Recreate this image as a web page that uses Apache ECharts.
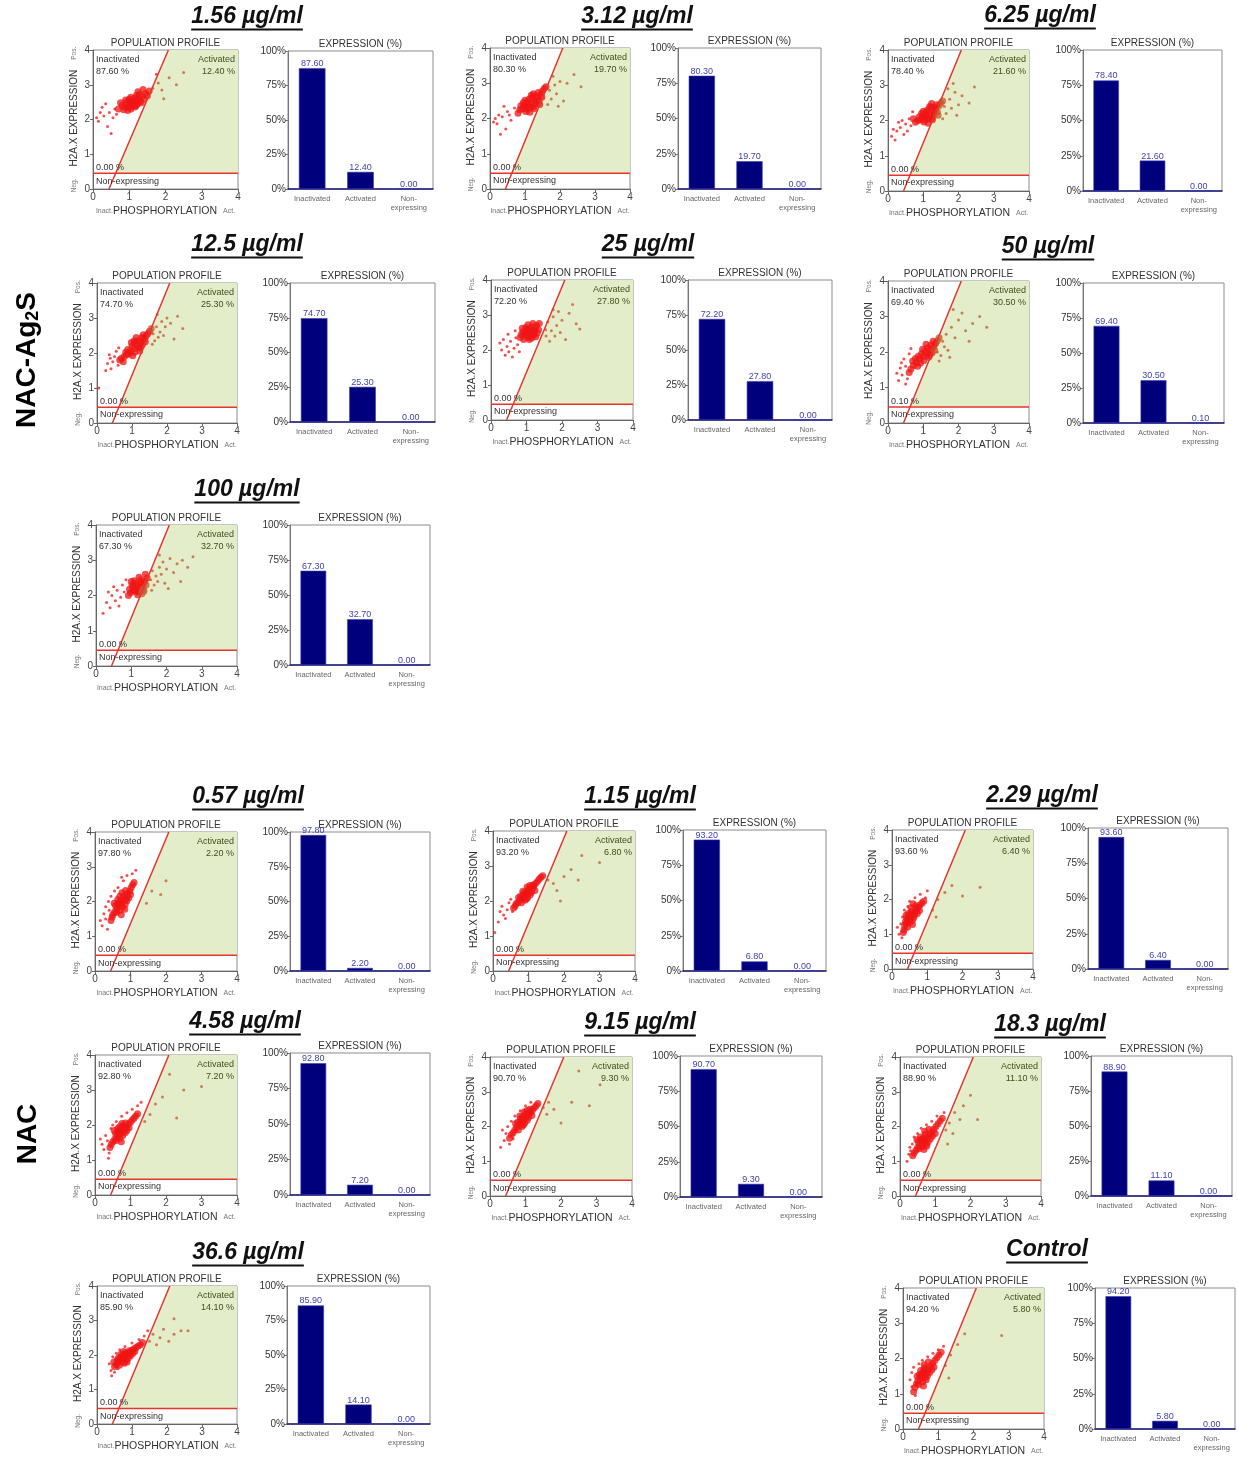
<!DOCTYPE html>
<html><head><meta charset="utf-8">
<script src="https://cdn.jsdelivr.net/npm/echarts/dist/echarts.min.js"></script>
<style>html,body{margin:0;padding:0;background:#fff}#c{width:1238px;height:1458px}</style>
</head><body><div id="c"></div>
<script>
// ---------------- DATA ----------------
const panelTitles = ['1.56 µg/ml','3.12 µg/ml','6.25 µg/ml','12.5 µg/ml','25 µg/ml','50 µg/ml','100 µg/ml',
  '0.57 µg/ml','1.15 µg/ml','2.29 µg/ml','4.58 µg/ml','9.15 µg/ml','18.3 µg/ml','36.6 µg/ml','Control'];
const inactivated = [87.60,80.30,78.40,74.70,72.20,69.40,67.30,97.80,93.20,93.60,92.80,90.70,88.90,85.90,94.20];
const activated = [12.40,19.70,21.60,25.30,27.80,30.50,32.70,2.20,6.80,6.40,7.20,9.30,11.10,14.10,5.80];
const nonExpressing = [0,0,0,0,0,0.10,0,0,0,0,0,0,0,0,0];
const barCategories = ['Inactivated','Activated','Non-\nexpressing'];
const scatterTicks = [0,1,2,3,4];
const pctTicks = [0,25,50,75,100];
const groupLabels = ['NAC-Ag2S','NAC'];
// gate: diagonal line x = GATE_X0 + GATE_SLOPE*y, horizontal line y = GATE_H
const GATE_X0 = 0.44, GATE_SLOPE = 0.41, GATE_H = 0.45;

// each cloud: dense core points first, then sparse points
const cloud1 = [[1.10,2.50],[1.02,2.46],[1.18,2.55],[0.95,2.42],[1.25,2.60],[1.08,2.38],[1.15,2.62],[0.88,2.35],[1.30,2.52],[1.00,2.58],[1.22,2.44],[0.92,2.50],[1.35,2.66],[1.05,2.30],[1.20,2.70],[0.80,2.40],[1.40,2.58],[0.98,2.34],[1.12,2.45],[1.28,2.72],[0.85,2.28],[1.45,2.75],[1.16,2.36],[0.76,2.48],[1.50,2.68],[1.04,2.64],[0.90,2.56],[1.33,2.48],[1.24,2.80],[0.70,2.30],[1.55,2.82],[1.07,2.52],[0.96,2.26],[1.38,2.86],[1.19,2.40],
 [0.30,2.10],[0.15,1.95],[0.45,2.20],[0.55,2.05],[0.25,2.35],[0.60,2.30],[0.40,1.80],[0.20,2.20],[0.65,2.15],[0.50,1.60],[0.35,2.45],[0.10,2.05],
 [1.65,2.90],[1.80,3.05],[1.90,2.85],[2.10,3.20],[2.30,3.00],[1.95,2.60],[2.50,3.35],[1.75,3.30]];
const cloud2 = [[1.20,2.45],[1.10,2.40],[1.28,2.52],[1.05,2.35],[1.35,2.58],[1.15,2.30],[1.22,2.62],[0.98,2.38],[1.40,2.50],[1.08,2.48],[1.30,2.42],[0.92,2.28],[1.45,2.68],[1.12,2.55],[1.25,2.34],[0.85,2.25],[1.50,2.78],[1.02,2.20],[1.18,2.66],[1.38,2.74],[0.95,2.45],[1.55,2.85],[1.26,2.28],[0.88,2.36],[1.42,2.40],[1.14,2.18],[1.32,2.64],[1.00,2.52],[1.48,2.60],[0.80,2.15],[1.60,2.90],[1.24,2.70],[1.06,2.26],
 [0.10,1.90],[0.20,1.85],[0.35,2.05],[0.50,2.20],[0.25,2.10],[0.60,1.95],[0.45,1.70],[0.70,2.30],[0.15,2.00],[0.40,2.35],[0.55,2.10],[0.30,1.55],
 [1.70,2.80],[1.85,2.95],[1.75,2.55],[2.00,3.05],[1.90,2.70],[2.20,3.00],[1.65,2.40],[2.40,3.25],[2.10,2.50],[1.80,3.20],[2.60,2.90],[1.95,2.35]];
const cloud3 = [[1.20,2.20],[1.10,2.15],[1.28,2.28],[1.05,2.10],[1.35,2.32],[1.15,2.05],[1.22,2.38],[0.98,2.12],[1.40,2.25],[1.08,2.24],[1.30,2.16],[0.92,2.02],[1.45,2.42],[1.12,2.30],[1.25,2.08],[0.85,2.00],[1.50,2.50],[1.02,1.96],[1.18,2.40],[1.38,2.45],[0.95,2.20],[1.55,2.55],[1.26,2.02],[0.88,2.10],[1.42,2.15],[1.14,1.92],[1.32,2.36],[1.00,2.26],[0.78,1.95],[1.24,2.48],[0.72,2.05],[1.06,2.02],
 [0.10,1.55],[0.20,1.45],[0.35,1.80],[0.50,1.90],[0.25,1.70],[0.60,2.05],[0.45,1.60],[0.65,1.85],[0.15,1.75],[0.40,2.00],[0.55,1.70],[0.30,1.95],[0.70,2.25],
 [1.60,2.40],[1.75,2.60],[1.65,2.20],[1.90,2.80],[1.80,2.35],[2.10,2.70],[1.70,2.90],[2.30,2.50],[1.95,2.15],[1.85,3.05],[2.45,2.95],[2.00,2.45],[1.55,2.05]];
const cloud4 = [[1.15,2.20],[1.05,2.12],[1.25,2.30],[0.95,2.05],[1.35,2.40],[1.10,2.28],[1.20,2.14],[0.85,1.95],[1.40,2.48],[1.00,2.20],[1.30,2.25],[0.78,1.90],[1.45,2.55],[1.18,2.36],[1.08,2.02],[0.70,1.85],[1.50,2.62],[0.92,1.98],[1.28,2.44],[1.22,2.06],[0.88,2.10],[1.55,2.70],[1.02,1.92],[0.65,1.80],[1.38,2.32],[1.12,2.44],[0.98,2.30],[0.82,2.02],[1.32,2.52],[0.75,1.75],[1.26,2.18],[1.06,2.34],
 [0.30,1.70],[0.40,1.55],[0.50,1.90],[0.60,1.65],[0.35,1.95],[0.55,2.05],[0.45,1.75],[0.25,1.50],[0.62,2.15],[0.38,1.85],[0.05,1.00],
 [1.60,2.55],[1.70,2.75],[1.65,2.35],[1.85,2.90],[1.80,2.60],[2.00,3.00],[1.75,2.45],[1.95,2.75],[2.10,2.85],[1.90,2.50],[2.30,3.05],[1.58,2.25],[2.45,2.70],[2.20,2.40],[1.72,3.10]];
const cloud5 = [[1.10,2.50],[1.00,2.45],[1.18,2.56],[0.95,2.40],[1.25,2.62],[1.05,2.36],[1.14,2.66],[0.90,2.52],[1.30,2.48],[1.02,2.58],[1.20,2.42],[0.85,2.44],[1.08,2.30],[1.28,2.70],[0.98,2.64],[1.15,2.34],[0.92,2.30],[1.34,2.58],[1.22,2.52],[1.04,2.72],[0.82,2.36],[1.12,2.42],[1.36,2.76],[0.96,2.50],[1.26,2.38],[1.06,2.60],[0.88,2.62],[1.18,2.76],
 [0.30,2.00],[0.45,2.10],[0.55,2.25],[0.40,1.85],[0.65,2.05],[0.70,2.35],[0.50,1.95],[0.35,2.30],[0.60,1.80],[0.75,2.15],[0.80,1.95],[0.25,2.20],[0.68,2.55],[0.48,2.45],
 [1.54,2.58],[1.60,2.80],[1.55,2.40],[1.75,2.95],[1.70,2.55],[1.90,3.10],[1.65,2.25],[1.85,2.70],[2.00,2.85],[1.80,2.40],[2.20,3.05],[1.95,2.50],[2.40,2.75],[2.10,2.30],[1.75,3.15],[2.30,3.30],[2.50,2.60]];
const cloud6 = [[1.10,1.95],[1.00,1.88],[1.20,2.05],[0.90,1.80],[1.30,2.15],[1.05,2.02],[1.15,1.85],[0.80,1.70],[1.35,2.25],[0.95,1.95],[1.25,1.98],[0.72,1.62],[1.40,2.32],[1.12,2.12],[1.02,1.76],[0.65,1.52],[1.45,2.40],[0.86,1.88],[1.22,2.20],[1.18,1.90],[0.78,1.82],[0.98,2.08],[0.60,1.42],[1.32,2.05],[0.84,1.60],[1.08,2.22],[0.92,1.68],[0.70,1.75],[1.28,2.30],
 [0.30,1.20],[0.40,1.35],[0.50,1.60],[0.35,1.55],[0.55,1.25],[0.45,1.80],[0.25,1.40],[0.60,1.95],[0.50,1.10],[0.38,1.70],[0.65,2.10],
 [1.40,2.00],[1.55,2.30],[1.50,1.90],[1.65,2.50],[1.60,2.15],[1.80,2.70],[1.70,2.05],[1.90,2.40],[2.00,2.90],[1.75,1.85],[2.20,2.60],[2.10,3.10],[2.40,2.80],[2.60,3.00],[2.80,2.70],[1.85,3.20],[2.30,2.30],[1.45,1.75]];
const cloud7 = [[1.25,2.25],[1.15,2.20],[1.32,2.32],[1.10,2.12],[1.38,2.40],[1.20,2.10],[1.28,2.45],[1.05,2.24],[1.42,2.30],[1.12,2.35],[1.34,2.18],[0.98,2.08],[1.22,2.52],[1.18,2.02],[1.02,2.30],[1.30,2.05],[0.95,2.18],[1.45,2.50],[1.08,2.42],[1.26,2.36],[0.92,2.00],[1.40,2.60],[1.16,2.28],[1.00,2.40],[1.36,2.12],[1.06,2.14],
 [0.30,1.80],[0.45,2.00],[0.55,1.85],[0.60,2.15],[0.40,1.65],[0.70,1.95],[0.75,2.30],[0.50,2.25],[0.65,1.70],[0.80,2.10],[0.85,2.45],[0.20,1.50],[0.35,2.10],
 [1.55,2.45],[1.60,2.70],[1.70,2.55],[1.65,2.30],[1.80,2.80],[1.75,2.40],[1.90,2.95],[1.85,2.60],[2.00,2.75],[1.95,2.35],[2.10,3.05],[2.20,2.65],[2.30,2.90],[2.05,2.20],[2.45,3.00],[2.60,2.80],[2.75,3.10],[1.80,3.15],[2.40,2.40],[1.58,2.15]];
const cloud8 = [[0.75,1.95],[0.68,1.88],[0.82,2.05],[0.62,1.80],[0.88,2.12],[0.72,2.02],[0.78,1.84],[0.55,1.70],[0.92,2.22],[0.66,1.96],[0.85,1.92],[0.50,1.62],[0.98,2.30],[0.80,2.15],[0.70,1.74],[0.58,1.88],[1.02,2.40],[0.64,2.06],[0.90,2.02],[0.76,2.25],[0.48,1.55],[1.06,2.48],[0.60,1.68],[0.86,2.32],[0.74,1.62],[0.95,2.10],[0.54,1.95],[1.10,2.55],[0.70,2.15],[0.84,1.78],[0.45,1.45],[1.00,2.20],
 [0.20,1.30],[0.30,1.50],[0.35,1.20],[0.25,1.65],[0.40,1.75],[0.15,1.45],[0.38,2.00],[0.30,1.85],[0.45,2.15],[0.55,2.30],[0.65,2.40],[0.80,2.60],[0.75,2.70],[0.90,2.75],[1.05,2.80],[1.15,2.90],
 [1.60,2.30],[1.45,1.95],[2.00,2.60],[1.85,2.20]];
const cloud9 = [[0.95,2.20],[0.88,2.14],[1.02,2.28],[0.82,2.08],[1.10,2.36],[0.92,2.26],[0.98,2.10],[0.75,2.02],[1.15,2.42],[0.86,2.20],[1.05,2.18],[0.70,1.96],[1.20,2.50],[1.00,2.34],[0.90,2.02],[0.78,2.14],[1.25,2.56],[0.84,2.28],[1.08,2.24],[0.96,2.40],[0.65,1.92],[1.30,2.62],[0.80,1.95],[1.12,2.46],[0.94,2.06],[1.18,2.30],[0.72,2.10],[1.35,2.68],[0.62,1.85],[1.04,2.44],[1.40,2.72],[0.58,1.80],
 [0.05,1.10],[0.15,1.40],[0.30,1.60],[0.40,1.75],[0.25,1.85],[0.45,1.95],[0.35,1.50],[0.50,2.05],[0.20,1.70],[0.55,1.70],
 [1.55,2.60],[1.70,2.50],[1.80,2.30],[2.00,2.70],[2.20,2.90],[2.50,3.30],[3.00,3.10],[1.90,2.00],[2.40,2.60]];
const cloud10 = [[0.55,1.50],[0.50,1.44],[0.60,1.58],[0.45,1.38],[0.66,1.64],[0.52,1.56],[0.58,1.40],[0.40,1.30],[0.70,1.72],[0.48,1.50],[0.62,1.48],[0.36,1.24],[0.75,1.78],[0.56,1.66],[0.44,1.20],[0.42,1.46],[0.80,1.84],[0.50,1.34],[0.64,1.56],[0.54,1.76],[0.34,1.12],[0.85,1.90],[0.38,1.36],[0.68,1.82],[0.46,1.60],[0.72,1.60],[0.32,1.05],[0.90,1.95],[0.58,1.28],[0.40,1.55],[0.78,1.68],[0.60,1.88],
 [0.20,1.00],[0.25,1.30],[0.30,1.50],[0.35,1.70],[0.28,0.90],[0.45,1.80],[0.50,1.95],[0.65,2.05],[0.80,2.15],[0.95,2.05],[1.00,2.25],[0.15,1.20],
 [1.15,1.70],[1.30,2.00],[1.50,2.20],[1.70,2.40],[2.00,2.10],[2.50,2.35],[1.25,1.50]];
const cloud11 = [[0.75,1.80],[0.68,1.74],[0.82,1.88],[0.62,1.68],[0.88,1.94],[0.72,1.86],[0.78,1.70],[0.56,1.60],[0.94,2.02],[0.66,1.82],[0.85,1.78],[0.50,1.52],[1.00,2.08],[0.80,1.98],[0.70,1.62],[0.58,1.76],[1.05,2.14],[0.64,1.90],[0.90,1.84],[0.76,2.04],[0.46,1.44],[1.10,2.20],[0.60,1.56],[0.86,2.06],[0.74,1.52],[0.96,1.92],[0.54,1.84],[1.15,2.26],[0.42,1.36],[1.20,2.32],[0.70,1.96],
 [0.25,1.30],[0.35,1.55],[0.40,1.20],[0.30,1.70],[0.45,1.90],[0.20,1.45],[0.50,2.00],[0.38,1.05],[0.60,2.10],[0.75,2.25],[0.90,2.35],[1.05,2.45],[1.20,2.55],[1.30,2.65],[0.15,1.60],
 [1.40,2.10],[1.55,2.30],[1.70,2.60],[1.90,2.80],[2.10,3.45],[2.50,3.00],[3.00,3.10],[2.30,2.20]];
const cloud12 = [[0.95,2.20],[0.88,2.14],[1.02,2.28],[0.82,2.06],[1.10,2.36],[0.92,2.28],[0.98,2.10],[0.75,1.98],[1.15,2.42],[0.86,2.22],[1.05,2.18],[0.70,1.90],[1.20,2.48],[1.00,2.36],[0.90,2.00],[0.78,2.12],[1.25,2.54],[0.84,2.30],[1.08,2.26],[0.96,2.42],[0.65,1.82],[1.30,2.60],[0.80,1.90],[1.12,2.50],[0.94,2.04],[1.18,2.32],[0.72,2.08],[1.35,2.66],[0.60,1.76],[1.04,2.46],[0.55,1.66],
 [0.40,1.60],[0.45,1.80],[0.50,2.00],[0.55,1.50],[0.60,2.15],[0.70,2.30],[0.85,2.45],[1.00,2.60],[1.15,2.70],[0.35,1.90],[0.65,1.65],[0.30,1.40],
 [1.50,2.55],[1.65,2.70],[1.60,2.35],[1.80,2.50],[2.00,2.10],[2.30,2.70],[2.50,3.60],[2.80,2.60],[3.10,3.20]];
const cloud13 = [[0.70,1.60],[0.62,1.54],[0.78,1.68],[0.56,1.46],[0.84,1.76],[0.66,1.66],[0.74,1.50],[0.50,1.40],[0.90,1.84],[0.60,1.62],[0.80,1.56],[0.45,1.32],[0.96,1.92],[0.72,1.78],[0.64,1.42],[0.52,1.56],[1.02,2.00],[0.58,1.70],[0.86,1.64],[0.70,1.86],[0.40,1.24],[1.08,2.08],[0.54,1.36],[0.82,1.92],[0.68,1.34],[0.92,1.72],[0.48,1.62],[1.14,2.16],[0.36,1.16],[1.20,2.24],[0.76,1.44],[1.00,1.80],
 [0.20,1.00],[0.30,1.30],[0.35,1.50],[0.40,1.70],[0.25,1.20],[0.50,1.80],[0.60,1.95],[0.75,2.05],[0.90,2.15],[1.05,2.30],[1.25,2.40],[0.28,1.40],
 [1.30,1.90],[1.40,2.10],[1.55,2.40],[1.50,1.80],[1.70,2.20],[1.80,2.60],[2.00,2.90],[2.20,2.20],[1.35,1.50]];
const cloud14 = [[0.80,1.95],[0.72,1.90],[0.88,2.02],[0.66,1.84],[0.94,2.08],[0.76,2.00],[0.84,1.86],[0.60,1.78],[1.00,2.14],[0.70,1.96],[0.90,1.92],[0.55,1.72],[1.06,2.18],[0.82,2.06],[0.74,1.80],[0.62,1.92],[1.12,2.22],[0.68,2.02],[0.96,1.98],[0.78,1.76],[0.50,1.66],[1.18,2.26],[0.64,1.70],[0.92,2.12],[0.86,1.80],[1.02,2.04],[0.58,1.86],[1.24,2.30],[0.48,1.80],[1.30,2.36],[0.76,2.10],[1.08,2.10],
 [0.40,1.55],[0.35,1.75],[0.45,1.95],[0.50,1.50],[0.55,2.05],[0.65,2.15],[0.80,2.25],[1.00,2.35],[1.20,2.45],[1.35,2.55],[1.45,2.70],[0.42,1.40],[0.60,1.60],
 [1.50,2.40],[1.60,2.60],[1.70,2.30],[1.80,2.50],[1.90,2.75],[2.05,2.40],[2.20,2.60],[2.40,2.70],[2.60,2.70],[2.20,3.05]];
const cloud15 = [[0.60,1.55],[0.54,1.48],[0.66,1.62],[0.48,1.42],[0.72,1.70],[0.58,1.64],[0.64,1.46],[0.42,1.36],[0.78,1.78],[0.52,1.56],[0.70,1.52],[0.38,1.28],[0.84,1.86],[0.62,1.74],[0.56,1.34],[0.46,1.54],[0.90,1.94],[0.50,1.66],[0.76,1.60],[0.60,1.82],[0.34,1.18],[0.96,2.02],[0.44,1.26],[0.72,1.90],[0.58,1.22],[0.82,1.68],[0.40,1.50],[1.02,2.10],[0.30,1.06],[1.08,2.18],[0.66,1.40],[0.88,1.76],
 [0.20,1.40],[0.25,1.60],[0.35,0.95],[0.30,1.75],[0.45,1.85],[0.55,1.95],[0.70,2.05],[0.85,2.15],[1.00,2.25],[1.15,2.35],[0.25,1.20],
 [1.20,1.80],[1.35,2.10],[1.30,1.45],[1.55,2.40],[1.75,2.70],[2.80,2.65]];
const clouds = [cloud1,cloud2,cloud3,cloud4,cloud5,cloud6,cloud7,cloud8,cloud9,cloud10,cloud11,cloud12,cloud13,cloud14,cloud15];
// number of leading points in each cloud that form its dense core
const coreCounts = [35,33,32,32,28,29,26,32,32,32,31,31,32,32,32];

// ---------------- LAYOUT (pixels) ----------------
// [scatterL, scatterT, scatterR, scatterB, barL, barT, barR, barB, titleX, titleY]
const layout = [
 [93,50,238,189, 288,51,433,189, 247,17],
 [490,48,630,189, 678,48,821,189, 637,17],
 [888,50,1029,191, 1083,50,1222,191, 1040,16],
 [97,283,237,423, 290,283,435,422, 247,245],
 [491,280,633,420, 688,280,832,420, 648,245],
 [888,281,1029,423, 1083,283,1224,423, 1048,247],
 [96,525,237,666, 290,525,430,665, 247,490],
 [95,832,237,971, 290,832,430,971, 248,797],
 [493,831,635,971, 683,830,826,971, 640,797],
 [892,830,1033,969, 1088,828,1228,969, 1042,796],
 [95,1055,237,1195, 290,1053,430,1195, 245,1022],
 [490,1057,632,1196, 680,1056,822,1197, 640,1023],
 [900,1057,1041,1196, 1091,1056,1232,1196, 1050,1025],
 [97,1286,237,1424, 287,1286,430,1424, 248,1253],
 [903,1288,1044,1429, 1095,1288,1235,1429, 1047,1250]
];
const groupLabelPos = [[27,360],[28,1134]];

const FONT = '"Liberation Sans", Arial, sans-serif';
const mctx = document.createElement('canvas').getContext('2d');
function textW(font, s) { mctx.font = font; return mctx.measureText(s).width; }
const fmt = v => v.toFixed(2);

const grid = [], xAxis = [], yAxis = [], series = [], graphic = [];
const gatePoly = [[GATE_X0 + GATE_SLOPE * GATE_H, GATE_H], [GATE_X0 + GATE_SLOPE * 4, 4], [4, 4], [4, GATE_H]];
const gateLinePts = [[GATE_X0, 0], [GATE_X0 + GATE_SLOPE * 4, 4], [0, GATE_H], [4, GATE_H]];
const isAct = v => v[0] > GATE_X0 + GATE_SLOPE * v[1];

clouds.forEach((pts, i) => {
  const [sL, sT, sR, sB, bL, bT, bR, bB, tX, tY] = layout[i];
  const gs = grid.length, gb = gs + 1;
  grid.push({left: sL, top: sT, width: sR - sL, height: sB - sT, show: true, borderColor: '#8c8c8c', borderWidth: 1, backgroundColor: '#fff', outerBoundsMode: 'none', containLabel: false});
  grid.push({left: bL, top: bT, width: bR - bL, height: bB - bT, show: true, borderColor: '#8c8c8c', borderWidth: 1, backgroundColor: '#fff', outerBoundsMode: 'none', containLabel: false});

  xAxis.push({
    gridIndex: gs, type: 'value', min: scatterTicks[0], max: scatterTicks[scatterTicks.length - 1], interval: 1,
    axisLine: {lineStyle: {color: '#666', width: 1}}, axisTick: {show: true, length: 3, lineStyle: {color: '#666'}},
    axisLabel: {fontSize: 10, color: '#444', margin: 3, fontFamily: FONT}, splitLine: {show: false},
    name: '{s|Inact.}{b|PHOSPHORYLATION}{g| }{s|Act.}', nameLocation: 'middle', nameGap: 16, nameMoveOverlap: false,
    nameTextStyle: {fontFamily: FONT, rich: {s: {fontSize: 7, color: '#777', fontFamily: FONT}, b: {fontSize: 10.5, color: '#333', fontFamily: FONT}, g: {width: 6}}}
  });
  yAxis.push({
    gridIndex: gs, type: 'value', min: scatterTicks[0], max: scatterTicks[scatterTicks.length - 1], interval: 1,
    axisLine: {lineStyle: {color: '#666', width: 1}}, axisTick: {show: true, length: 3, lineStyle: {color: '#666'}},
    axisLabel: {fontSize: 10, color: '#444', margin: 3, fontFamily: FONT}, splitLine: {show: false},
    name: '{s|Neg.}{g1| }{b|H2A.X EXPRESSION}{g2| }{s|Pos.}', nameLocation: 'middle', nameGap: 13, nameMoveOverlap: false,
    nameTextStyle: {fontFamily: FONT, rich: {s: {fontSize: 6.5, color: '#777', fontFamily: FONT}, b: {fontSize: 10, color: '#333', fontFamily: FONT}, g1: {width: 12}, g2: {width: 10}}}
  });
  xAxis.push({
    gridIndex: gb, type: 'category', data: barCategories,
    axisLine: {lineStyle: {color: '#1a1a7a', width: 1.5}}, axisTick: {show: false},
    axisLabel: {fontSize: 7.5, color: '#666', interval: 0, margin: 5, lineHeight: 9, fontFamily: FONT}, splitLine: {show: false}
  });
  yAxis.push({
    gridIndex: gb, type: 'value', min: pctTicks[0], max: pctTicks[pctTicks.length - 1], interval: 25,
    axisLine: {show: true, lineStyle: {color: '#777'}}, axisTick: {show: true, length: 3, lineStyle: {color: '#777'}},
    axisLabel: {formatter: '{value}%', fontSize: 10, color: '#333', margin: 2, fontFamily: FONT}, splitLine: {show: false}
  });

  const inact = inactivated[i], act = activated[i], non = nonExpressing[i];
  const nCore = coreCounts[i];
  series.push({
    type: 'custom', xAxisIndex: gs, yAxisIndex: gs, z: 1, silent: true, data: gatePoly,
    renderItem: (params, api) => {
      if (params.dataIndex !== 0) return null;
      return {type: 'polygon', shape: {points: gatePoly.map(p => api.coord(p))}, style: {fill: '#e4edca'}};
    }
  });
  series.push({
    type: 'scatter', xAxisIndex: gs, yAxisIndex: gs, z: 2, symbol: 'circle', silent: true,
    data: pts,
    symbolSize: (v, p) => (p.dataIndex < nCore ? 7 : 3),
    itemStyle: {opacity: 0.75, color: p => (isAct(p.value) ? '#c4582a' : '#f01414')}
  });
  series.push({
    type: 'custom', xAxisIndex: gs, yAxisIndex: gs, z: 3, silent: true, data: gateLinePts,
    renderItem: (params, api) => {
      if (params.dataIndex !== 0) return null;
      const c = gateLinePts.map(p => api.coord(p));
      const tl = api.coord([0, 4]), tr = api.coord([4, 4]);
      const ts = {fontSize: 9, fontFamily: FONT, lineHeight: 11.5};
      return {type: 'group', children: [
        {type: 'line', shape: {x1: c[0][0], y1: c[0][1], x2: c[1][0], y2: c[1][1]}, style: {stroke: '#e5352c', lineWidth: 1.5}},
        {type: 'line', shape: {x1: c[2][0], y1: c[2][1], x2: c[3][0], y2: c[3][1]}, style: {stroke: '#e5352c', lineWidth: 1.5}},
        {type: 'text', x: tl[0] + 3, y: tl[1] + 4, style: Object.assign({text: 'Inactivated\n' + fmt(inact) + ' %', fill: '#333', align: 'left', verticalAlign: 'top'}, ts)},
        {type: 'text', x: tr[0] - 3, y: tr[1] + 4, style: Object.assign({text: 'Activated\n' + fmt(act) + ' %', fill: '#44501c', align: 'right', verticalAlign: 'top'}, ts)},
        {type: 'text', x: c[2][0] + 3, y: c[2][1], style: Object.assign({text: fmt(non) + ' %', fill: '#333', align: 'left', verticalAlign: 'bottom'}, ts)},
        {type: 'text', x: c[2][0] + 3, y: c[2][1] + 2, style: Object.assign({text: 'Non-expressing', fill: '#333', align: 'left', verticalAlign: 'top'}, ts)}
      ]};
    }
  });
  series.push({
    type: 'bar', xAxisIndex: gb, yAxisIndex: gb, z: 2, barWidth: '55%', silent: true,
    data: [inact, act, non],
    itemStyle: {color: '#00007c', borderColor: '#3b3bb0', borderWidth: 0.6},
    label: {show: true, position: 'top', distance: 0, formatter: p => fmt(p.value), fontSize: 9, color: '#4242b0', fontFamily: FONT}
  });

  // headings
  graphic.push({type: 'text', x: (sL + sR) / 2, y: sT - 7, style: {text: 'POPULATION PROFILE', fontSize: 10, fontFamily: FONT, fill: '#333', align: 'center', verticalAlign: 'middle'}});
  graphic.push({type: 'text', x: (bL + bR) / 2, y: bT - 7, style: {text: 'EXPRESSION (%)', fontSize: 10, fontFamily: FONT, fill: '#333', align: 'center', verticalAlign: 'middle'}});
  const tFont = 'italic bold 23px ' + FONT;
  const w = textW(tFont, panelTitles[i]);
  graphic.push({type: 'text', x: tX, y: tY, style: {text: panelTitles[i], font: tFont, fill: '#111', align: 'center', verticalAlign: 'middle'}});
  graphic.push({type: 'rect', shape: {x: tX - w / 2, y: tY + 11.5, width: w, height: 2}, style: {fill: '#111'}});
});

// group labels (rotated)
graphic.push({type: 'text', x: groupLabelPos[0][0], y: groupLabelPos[0][1], rotation: Math.PI / 2,
  style: {text: '{a|NAC-Ag}{b|2}{a|S}', align: 'center', verticalAlign: 'middle',
    rich: {a: {fontSize: 28, fontWeight: 'bold', fontFamily: FONT, fill: '#000'}, b: {fontSize: 18, fontWeight: 'bold', fontFamily: FONT, fill: '#000', padding: [12, 0, 0, 0]}}}});
graphic.push({type: 'text', x: groupLabelPos[1][0], y: groupLabelPos[1][1], rotation: Math.PI / 2,
  style: {text: groupLabels[1], align: 'center', verticalAlign: 'middle', font: 'bold 28px ' + FONT, fill: '#000'}});

const chart = echarts.init(document.getElementById('c'), null, {renderer: 'canvas'});
chart.setOption({animation: false, backgroundColor: '#fff', grid, xAxis, yAxis, series, graphic});
</script>
</body></html>
